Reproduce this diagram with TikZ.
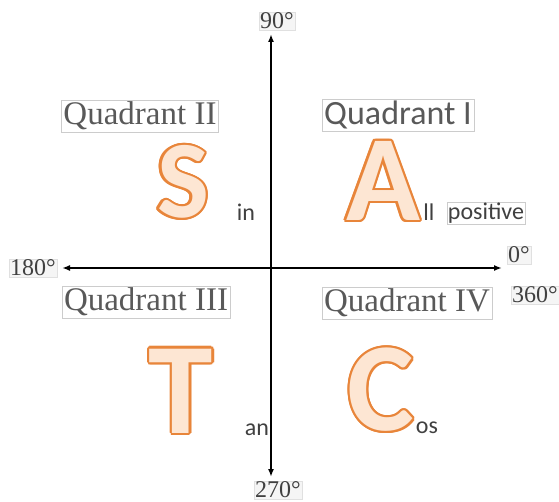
\documentclass[tikz,border=0pt]{standalone}
\usepackage{fontspec}
\setmainfont{Liberation Serif}
\newfontfamily\calibri{Carlito}
\usepackage[copies]{contour}
\usetikzlibrary{arrows.meta}

\definecolor{outl}{HTML}{E8853A}
\definecolor{peach}{HTML}{FDE6D3}
\contourlength{2.2pt}

\begin{document}
\begin{tikzpicture}[
  x=1pt, y=-1pt,
  >={Latex[length=8pt,width=6pt]},
  axis/.style={<->, line width=1.6pt},
  deg/.style={font=\fontsize{24}{24}\selectfont, text=black!75, inner sep=1pt, fill=black!4, draw=black!12, line width=0.3pt},
  quad/.style={font=\fontsize{33}{33}\selectfont, text=black!65, draw=black!20, line width=0.5pt, inner sep=2pt},
  big/.style={font=\calibri\bfseries\fontsize{#1}{#1}\selectfont, inner sep=0pt, text=peach},
  small/.style={font=\calibri\fontsize{24}{24}\selectfont, text=black!75, inner sep=1pt},
]
\useasboundingbox (0,0) rectangle (559,502);

% axes
\coordinate (north) at (271,34);
\coordinate (south) at (271,477);
\coordinate (west) at (62,268);
\coordinate (east) at (502,268);
\draw[axis] (north) -- (south);
\draw[axis] (west) -- (east);

% angle labels
\node[deg] (d90) at (277,21) {90°};
\node[deg] (d180) at (33,268) {180°};
\node[deg] (d0) at (519,255) {0°};
\node[deg] (d360) at (535,295) {360°};
\node[deg] (d270) at (278,490) {270°};

% quadrant names
\node[quad] (qII) at (140,116) {Quadrant II};
\node[quad, font=\calibri\fontsize{34}{34}\selectfont] (qI) at (398,115) {Quadrant I};
\node[quad] (qIII) at (146,302) {Quadrant III};
\node[quad] (qIV) at (407,303) {Quadrant IV};

% big letters
\node[big=110] (sL) at (183,183) {\contour{outl}{S}};
\node[big=122] (aL) at (383,182) {\contour{outl}{A}};
\node[big=130] (tL) at (181,392) {\contour{outl}{T}};
\node[big=126] (cL) at (381,391) {\contour{outl}{C}};

% rest of the words
\node[small] (sin) at (246,212) {in};
\node[small] (all) at (429,212) {ll};
\node[small, draw=black!20, line width=0.4pt] (pos) at (486,213) {positive};
\node[small] (tan) at (257,430) {an};
\node[small] (cos) at (427,428) {os};
\end{tikzpicture}
\end{document}
